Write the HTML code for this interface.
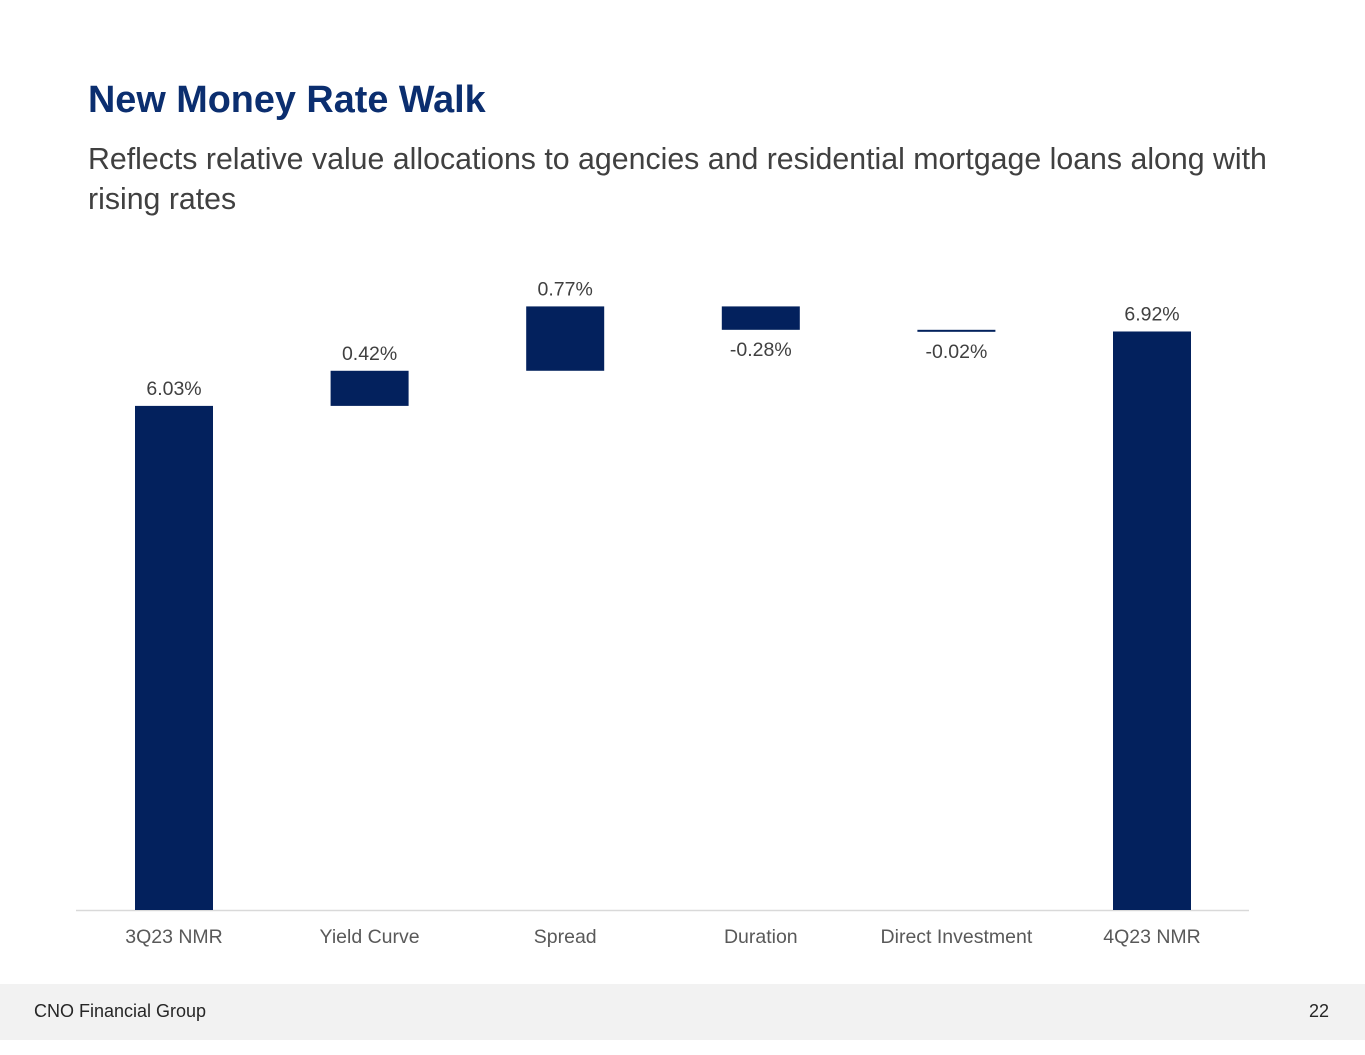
<!DOCTYPE html>
<html><head><meta charset="utf-8"><style>
body{margin:0;width:1365px;height:1055px;background:#fff;font-family:"Liberation Sans",Arial,sans-serif;position:relative;overflow:hidden}
#title{position:absolute;left:88px;top:79px;font-size:37.8px;font-weight:bold;color:#0b2e6f;margin:0}
#sub{position:absolute;left:88px;top:140px;width:1200px;font-size:30.3px;line-height:40px;color:#404040}
#footer{position:absolute;left:0;top:984px;width:1365px;height:56px;background:#f2f2f2}
#footer span{position:absolute;top:17px;font-size:18px;color:#262626}
svg{position:absolute;left:0;top:0}
</style></head><body>
<h1 id="title">New Money Rate Walk</h1>
<div id="sub">Reflects relative value allocations to agencies and residential mortgage loans along with rising rates</div>
<svg id="chart" width="1365" height="1055"></svg>
<div id="footer">
<span style="left:34px">CNO Financial Group</span>
<span style="right:36px">22</span>
</div>
<script>
const categories=["3Q23 NMR","Yield Curve","Spread","Duration","Direct Investment","4Q23 NMR"];
const values=[6.03,0.42,0.77,-0.28,-0.02,6.92];
const isTotal=[true,false,false,false,false,true];
const labels=["6.03%","0.42%","0.77%","-0.28%","-0.02%","6.92%"];
const NS="http://www.w3.org/2000/svg";
const svg=document.getElementById('chart');
const base=910,scale=83.6,x0=174,step=195.6,bw=78;
const y=v=>base-v*scale;
const xc=i=>x0+i*step;
function mk(t,a){const e=document.createElementNS(NS,t);for(const k in a)e.setAttribute(k,a[k]);svg.appendChild(e);return e;}
const axis=mk('line',{x1:76,x2:1249,y1:base+0.5,y2:base+0.5,stroke:'#d9d9d9','stroke-width':1.5});


let run=0;
values.forEach((v,i)=>{
  let lo,hi;
  if(isTotal[i]){lo=0;hi=v;run=v;}else{lo=Math.min(run,run+v);hi=Math.max(run,run+v);run+=v;}
  const h=Math.max(2,y(lo)-y(hi));
  const r=mk('rect',{x:xc(i)-bw/2,y:y(hi),width:bw,height:h,fill:'#03215d'});
  
  
  const ly=v>=0?y(hi)-11:y(hi)+h+26;
  const t=mk('text',{x:xc(i),y:ly,'text-anchor':'middle','font-size':19.5,fill:'#404040'});
  t.textContent=labels[i];
  
  
  const c=mk('text',{x:xc(i),y:943,'text-anchor':'middle','font-size':19.5,fill:'#595959'});
  c.textContent=categories[i];
  
  
});
</script>
</body></html>
